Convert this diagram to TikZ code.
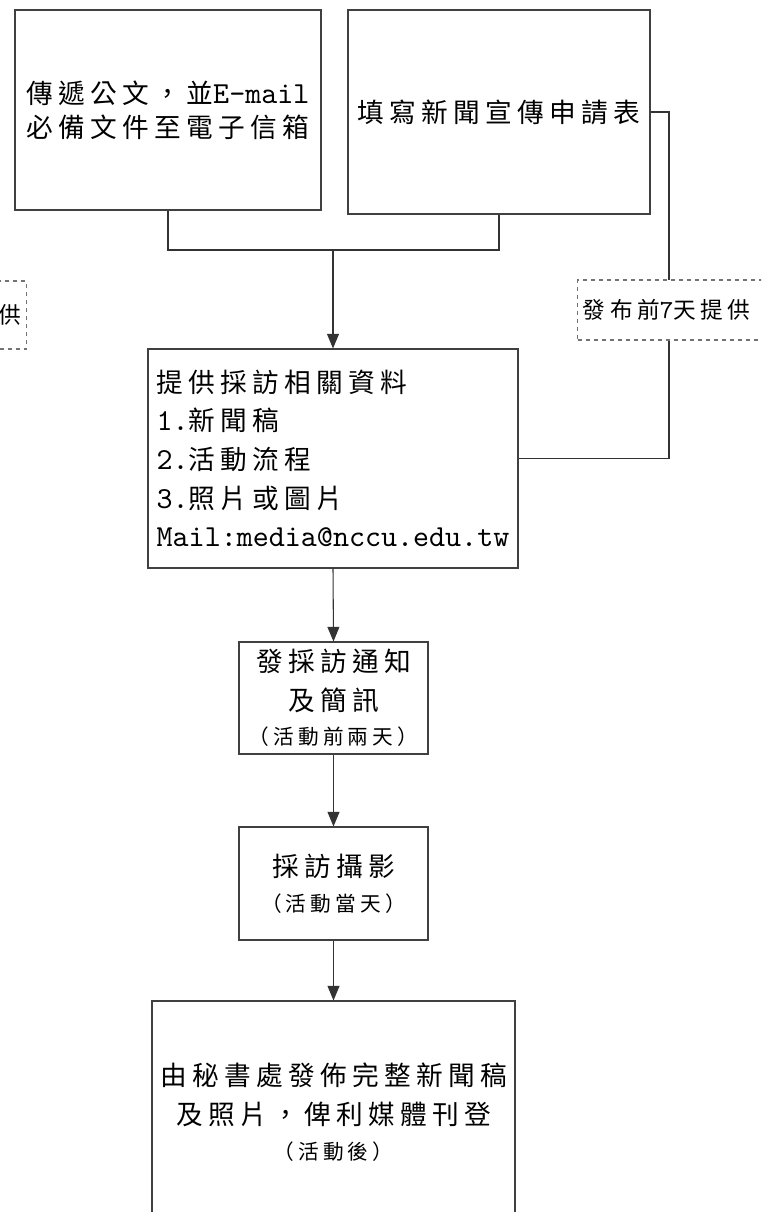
\documentclass[tikz,border=0pt]{standalone}
\usepackage{fontspec}
\setmainfont{Noto Sans CJK TC}[LetterSpace=20]
\newfontfamily\latmono{lmmono10-regular.otf}[Scale=1.145]
\usetikzlibrary{arrows.meta}

\tikzset{
    procbox/.style={draw=black!75, line width=0.8pt, fill=white, inner sep=0pt, font=\fontsize{20}{29}\selectfont},
    notebox/.style={draw=black!55, dashed, line width=0.8pt, fill=white, inner xsep=4pt, inner ysep=0pt, font=\fontsize{17}{20}\selectfont},
    flowline/.style={draw=black!80, line width=0.8pt},
    flowarrow/.style={flowline, -{Triangle[width=9pt,length=11pt]}}
}
\newcommand{\lat}[1]{{\latmono #1}}
\newcommand{\whenline}[1]{{\fontsize{15.5}{20}\selectfont #1}}

\begin{document}
\begin{tikzpicture}[x=0.75pt, y=-0.75pt]
    \useasboundingbox (0,0) rectangle (761,1212);
    \clip (0,0) rectangle (761,1212);

    % Define coordinates
    \coordinate (join) at (333,250);
    \coordinate (bend) at (669,458.5);

    % Draw the process boxes
    \node[procbox, minimum width=229.5pt, minimum height=150pt, align=center] (send) at (168,110)
        {傳遞公文，並\lat{E-mail}\\[-3.5pt]必備文件至電子信箱};
    \node[procbox, minimum width=226.5pt, minimum height=153pt] (form) at (499,112) {填寫新聞宣傳申請表};
    \node[procbox, minimum width=277.5pt, minimum height=164.25pt, align=left] (data) at (333,458.5)
        {提供採訪相關資料\\\lat{1.}新聞稿\\\lat{2.}活動流程\\\lat{3.}照片或圖片\\\lat{Mail:media@nccu.edu.tw}};
    \node[procbox, minimum width=141.75pt, minimum height=84pt, align=center] (notify) at (333.5,698)
        {發採訪通知\\及簡訊\\[-3pt]\whenline{（活動前兩天）}};
    \node[procbox, minimum width=141.75pt, minimum height=84.75pt, align=center] (shoot) at (333.5,883.5)
        {採訪攝影\\[-3pt]\whenline{（活動當天）}};
    \node[procbox, minimum width=272.25pt, minimum height=166.5pt, align=center] (publish) at (333.5,1112)
        {由秘書處發佈完整新聞稿\\及照片，俾利媒體刊登\\[-3pt]\whenline{（活動後）}};

    % Draw connectors between the boxes
    \draw[flowline] (send.south) |- (join) -| (form.south);
    \draw[flowarrow] (join) -- (data.north);
    \draw[flowarrow] (data.south) -- (notify.north);
    \draw[flowarrow] (notify.south) -- (shoot.north);
    \draw[flowarrow] (shoot.south) -- (publish.north);
    \draw[flowline] (form.east) -| (bend) -- (data.east);

    % Draw the dashed notes on top of the lines
    \node[notebox, anchor=west, text width=144pt, minimum height=45pt, align=left] (dueright) at (577,310)
        {發布前\lat{7}天提供};
    \node[notebox, anchor=east, text width=144pt, minimum height=51pt, align=right] (dueleft) at (27,315)
        {發布前\lat{7}天提供};

\end{tikzpicture}
\end{document}
